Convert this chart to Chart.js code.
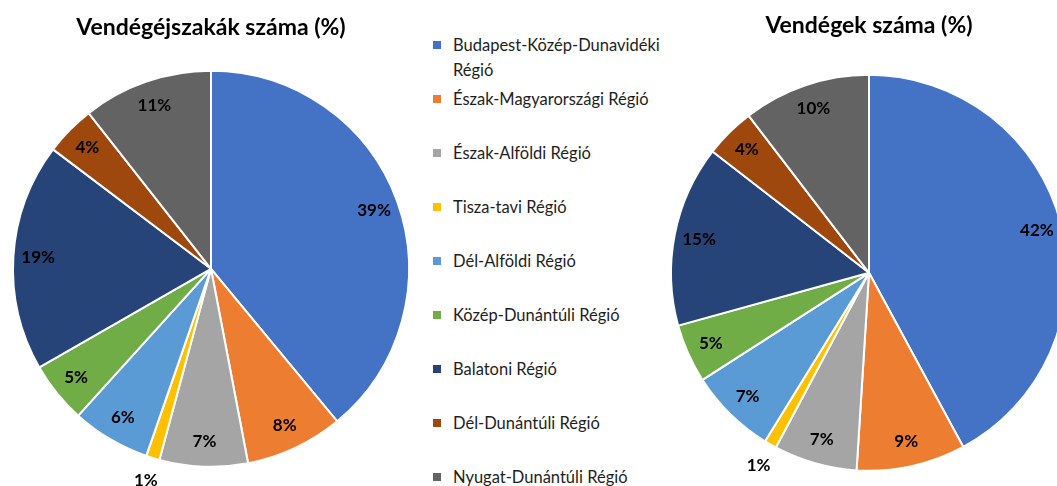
<!DOCTYPE html>
<html>
<head>
<meta charset="utf-8">
<script src="https://cdn.jsdelivr.net/npm/chart.js@4/dist/chart.umd.min.js"></script>
<style>
  html, body { margin: 0; padding: 0; background: #fff; overflow: hidden; width: 1057px; height: 486px; }
  #leftWrap { position: absolute; left: 0; top: 0; width: 422px; height: 486px; }
  #rightWrap { position: absolute; left: 660px; top: 0; width: 420px; height: 486px; }
  #legend { position: absolute; left: 433px; top: 0; font-family: Lato, sans-serif; font-size: 16.5px; color: #1e1e1e; }
  .item { position: absolute; left: 0; width: 240px; line-height: 25px; }
  .box { position: absolute; left: 0; top: 8px; width: 8px; height: 8px; }
  .txt { position: absolute; left: 20px; width: 215px; }
</style>
</head>
<body>
<div id="leftWrap"><canvas id="nightsChart"></canvas></div>
<div id="legend"></div>
<div id="rightWrap"><canvas id="guestsChart"></canvas></div>
<script>
// regions, in the order the slices go round (clockwise from 12 o'clock)
var regions = [
	"Budapest-Közép-Dunavidéki Régió",
	"Észak-Magyarországi Régió",
	"Észak-Alföldi Régió",
	"Tisza-tavi Régió",
	"Dél-Alföldi Régió",
	"Közép-Dunántúli Régió",
	"Balatoni Régió",
	"Dél-Dunántúli Régió",
	"Nyugat-Dunántúli Régió"
];
// shares (%)
var nightsShare = [39.0, 8.0, 7.2, 1.1, 6.4, 5.0, 18.6, 4.1, 10.6];
var guestsShare = [42.1, 8.9, 6.8, 1.0, 7.1, 4.8, 14.8, 4.1, 10.4];

var sliceColors = ['#4472C4', '#ED7D31', '#A5A5A5', '#FFC000', '#5B9BD5', '#70AD47', '#264478', '#9E480E', '#636363'];

// small plugin for the % labels (no datalabels plugin available)
var pctLabels = {
	id: 'pctLabels',
	afterDatasetsDraw: function(chart) {
		var ctx = chart.ctx;
		var meta = chart.getDatasetMeta(0);
		var values = chart.data.datasets[0].data;
		ctx.save();
		ctx.font = 'bold 17px Lato, sans-serif';
		ctx.fillStyle = '#000';
		ctx.textAlign = 'center';
		ctx.textBaseline = 'middle';
		meta.data.forEach(function(arc, i) {
			var p = arc.getProps(['x', 'y', 'startAngle', 'endAngle', 'outerRadius'], true);
			var mid = (p.startAngle + p.endAngle) / 2;
			var r = values[i] < 2 ? p.outerRadius * 1.12 : p.outerRadius * 0.875;
			ctx.fillText(Math.round(values[i]) + '%', p.x + Math.cos(mid) * r, p.y + Math.sin(mid) * r);
		});
		ctx.restore();
	}
};

function makePie(id, title, values, pad) {
	var ctx = document.getElementById(id).getContext('2d');
	return new Chart(ctx, {
		type: 'pie',
		data: {
			labels: regions,
			datasets: [{
				data: values,
				backgroundColor: sliceColors,
				borderColor: '#fff',
				borderWidth: 2
			}]
		},
		options: {
			responsive: true,
			maintainAspectRatio: false,
			animation: false,
			layout: { padding: pad },
			plugins: {
				legend: { display: false },
				tooltip: { enabled: false },
				title: {
					display: true,
					text: title,
					color: '#000',
					font: { family: 'Lato', size: 23, weight: 'bold', lineHeight: 1.2 },
					padding: { top: pad.titleTop, bottom: pad.titleBottom }
				}
			}
		},
		plugins: [pctLabels]
	});
}

makePie('nightsChart', 'Vendégéjszakák száma (%)', nightsShare,
	{ left: 12, right: 12, top: 0, bottom: 18, titleTop: 14, titleBottom: 28 });
makePie('guestsChart', 'Vendégek száma (%)', guestsShare,
	{ left: 10, right: 12, top: 0, bottom: 14, titleTop: 12, titleBottom: 34 });

// legend between the two pies
var legend = document.getElementById('legend');
regions.forEach(function(name, i) {
	var item = document.createElement('div');
	item.className = 'item';
	item.style.top = (45 + 54 * i - 12) + 'px';
	item.innerHTML = '<span class="box" style="background:' + sliceColors[i] + '"></span><span class="txt">' + name + '</span>';
	legend.appendChild(item);
});
</script>
</body>
</html>
